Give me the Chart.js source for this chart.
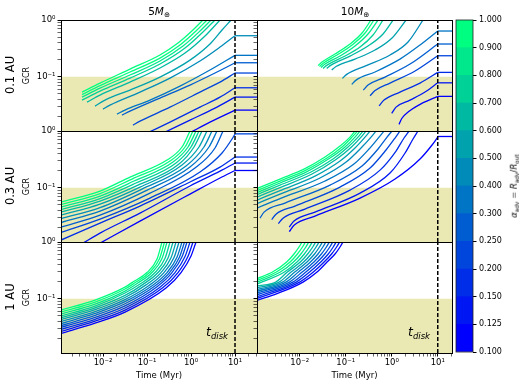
<!DOCTYPE html>
<html>
<head>
<meta charset="utf-8">
<script src="https://cdn.jsdelivr.net/npm/chart.js@4.4.1/dist/chart.umd.min.js"></script>
<style>
  html, body { margin: 0; padding: 0; background: #fff; }
  #fig { position: relative; width: 523px; height: 387px; overflow: hidden; font-family: 'DejaVu Sans', sans-serif; color: #000; }
  #fig canvas { position: absolute; }
  .txt { position: absolute; white-space: nowrap; line-height: 1; }
  .rot { transform: translate(-50%, -50%) rotate(-90deg); }
  .ctr { transform: translate(-50%, -50%); }
  sub { font-size: 0.68em; vertical-align: -0.3em; line-height: 0; }
</style>
</head>
<body>
<div id="fig">
  <canvas id="p00" width="262" height="123" style="left:0;top:10px"></canvas>
  <canvas id="p01" width="207" height="123" style="left:253px;top:10px"></canvas>
  <canvas id="p10" width="262" height="123" style="left:0;top:121px"></canvas>
  <canvas id="p11" width="207" height="123" style="left:253px;top:121px"></canvas>
  <canvas id="p20" width="262" height="153" style="left:0;top:232px"></canvas>
  <canvas id="p21" width="207" height="153" style="left:253px;top:232px"></canvas>
  <canvas id="cb" width="83" height="352" style="left:440px;top:10px"></canvas>

  <div class="txt ctr" style="left:159px;top:11px;font-size:10.5px">5<i>M</i><sub>⊕</sub></div>
  <div class="txt ctr" style="left:355px;top:11px;font-size:10.5px">10<i>M</i><sub>⊕</sub></div>
  <div class="txt rot" style="left:11px;top:75px;font-size:11.5px">0.1 AU</div>
  <div class="txt rot" style="left:11px;top:186px;font-size:11.5px">0.3 AU</div>
  <div class="txt rot" style="left:11px;top:297px;font-size:11.5px">1 AU</div>
  <div class="txt" style="left:206px;top:326px;font-size:12.5px"><i>t</i><sub><i>disk</i></sub></div>
  <div class="txt" style="left:408px;top:326px;font-size:12.5px"><i>t</i><sub><i>disk</i></sub></div>
  <div class="txt rot" style="left:514px;top:186px;font-size:8.5px"><i>α</i><sub>adv</sub> = <i>R</i><sub>adv</sub>/<i>R</i><sub>out</sub></div>
</div>

<script>
// alpha_adv of each track, same order as the rows of every panel array below
const alphas = [1.0, 0.9, 0.8, 0.7, 0.6, 0.5, 0.4, 0.3, 0.25, 0.2, 0.15, 0.125, 0.1];
// colorbar boundaries
const cbBounds = [0.1, 0.125, 0.15, 0.2, 0.25, 0.3, 0.4, 0.5, 0.6, 0.7, 0.8, 0.9, 1.0];

const tDisk = 10;        // Myr
const gcrLimit = 0.1;    // shaded below
const xLimLeft = [0.00111, 31.6];
const xLimRight = [0.00118, 20.4];
const yLim = [0.011, 1];

// 5 M_earth, 0.1 AU  (time in Myr / GCR)
const tl_t = [
  [0.00333, 0.00855, 0.0411, 0.197, 0.506, 1.17, 1.87],
  [0.00333, 0.00855, 0.0411, 0.197, 0.562, 1.37, 2.31],
  [0.00333, 0.00855, 0.0411, 0.197, 0.658, 1.60, 2.85],
  [0.00333, 0.00855, 0.0411, 0.197, 0.731, 1.87, 3.51],
  [0.00433, 0.00855, 0.0411, 0.197, 0.731, 2.08, 4.56],
  [0.00658, 0.0111, 0.0411, 0.197, 0.949, 2.70, 5.07, 8.11],
  [0.0100, 0.0144, 0.0693, 0.333, 1.60, 4.56, 10],
  [0.0208, 0.0316, 0.117, 0.562, 2.70, 10],
  [0.0270, 0.0411, 0.197, 0.949, 3.51, 10],
  [0.0481, 0.0693, 0.333, 1.60, 4.56, 10],
  [0.111, 0.333, 1.60, 4.56, 10],
  [0.257, 0.949, 3.51, 10],
  [1.0, 2.70, 10]
];
const tl_gcr = [
  [0.0535, 0.077, 0.136, 0.241, 0.392, 0.693, 1],
  [0.0483, 0.0696, 0.121, 0.213, 0.362, 0.666, 1],
  [0.0436, 0.0629, 0.107, 0.189, 0.347, 0.639, 1],
  [0.0386, 0.0557, 0.0945, 0.167, 0.320, 0.614, 1],
  [0.0356, 0.0473, 0.0802, 0.142, 0.261, 0.522, 1],
  [0.0302, 0.0386, 0.058, 0.0984, 0.196, 0.377, 0.666, 1],
  [0.0267, 0.0315, 0.0535, 0.0945, 0.189, 0.333, 0.528],
  [0.0218, 0.0257, 0.0386, 0.0682, 0.131, 0.238],
  [0.021, 0.0246, 0.0419, 0.0711, 0.116, 0.176],
  [0.014, 0.0164, 0.029, 0.0535, 0.0802, 0.116],
  [0.0105, 0.0158, 0.029, 0.0436, 0.0637],
  [0.0105, 0.0171, 0.0279, 0.0436],
  [0.0105, 0.0158, 0.0257]
];
const tl_plateau = [null, null, null, null, null, null, 0.528, 0.238, 0.176, 0.116, 0.0637, 0.0436, 0.0257];

// 10 M_earth, 0.1 AU
const tr_t = [
  [0.025, 0.0305, 0.0585, 0.124, 0.226, 0.355],
  [0.0269, 0.0329, 0.0647, 0.137, 0.263, 0.412],
  [0.029, 0.0355, 0.0752, 0.159, 0.305, 0.504],
  [0.0321, 0.0392, 0.0873, 0.205, 0.392, 0.647],
  [0.0386, 0.0479, 0.124, 0.305, 0.647, 1.07],
  [0.0497, 0.0615, 0.159, 0.434, 1.015, 2.05],
  [0.0843, 0.107, 0.263, 0.918, 2.26, 4.79],
  [0.135, 0.168, 0.434, 1.51, 4.12, 10],
  [0.241, 0.305, 0.715, 2.50, 10],
  [0.338, 0.434, 0.918, 3.21, 10],
  [0.530, 0.680, 1.51, 4.12, 10],
  [1.0, 1.24, 2.50, 5.29, 10],
  [1.44, 1.65, 2.30, 4.49, 10]
];
const tr_gcr = [
  [0.157, 0.181, 0.251, 0.377, 0.589, 1],
  [0.151, 0.174, 0.241, 0.362, 0.589, 1],
  [0.145, 0.167, 0.231, 0.347, 0.566, 1],
  [0.140, 0.160, 0.222, 0.333, 0.543, 1],
  [0.140, 0.160, 0.231, 0.347, 0.566, 1],
  [0.131, 0.151, 0.204, 0.295, 0.481, 1],
  [0.0933, 0.111, 0.154, 0.241, 0.409, 1],
  [0.0731, 0.087, 0.121, 0.204, 0.362, 0.639],
  [0.058, 0.0711, 0.0984, 0.167, 0.377],
  [0.046, 0.0568, 0.077, 0.126, 0.234],
  [0.0306, 0.0386, 0.0535, 0.077, 0.119],
  [0.0225, 0.029, 0.0386, 0.0535, 0.0779],
  [0.0144, 0.0183, 0.024, 0.0337, 0.0449]
];
const tr_plateau = [null, null, null, null, null, null, null, 0.639, 0.377, 0.234, 0.119, 0.0779, 0.0449];

// 5 M_earth, 0.3 AU
const ml_t = [
  [0.00111, 0.00855, 0.0411, 0.285, 0.624, 0.949],
  [0.00111, 0.00855, 0.0456, 0.333, 0.731, 1.11],
  [0.00111, 0.00855, 0.0507, 0.390, 0.855, 1.30],
  [0.00111, 0.00855, 0.0562, 0.456, 1.0, 1.52],
  [0.00111, 0.00855, 0.0624, 0.534, 1.17, 1.78],
  [0.00111, 0.00855, 0.0693, 0.624, 1.52, 2.31],
  [0.00111, 0.00855, 0.077, 0.770, 1.97, 3.00],
  [0.00111, 0.00855, 0.0901, 0.949, 2.56, 3.90],
  [0.00111, 0.00855, 0.117, 1.23, 3.51, 5.34],
  [0.00111, 0.00855, 0.117, 1.60, 5.07, 8.55, 10],
  [0.00111, 0.00855, 0.0693, 0.949, 4.56, 10],
  [0.00351, 0.00855, 0.0693, 0.949, 4.56, 10],
  [0.00855, 0.0693, 0.949, 4.56, 10]
];
const ml_gcr = [
  [0.0557, 0.087, 0.154, 0.307, 0.522, 1],
  [0.0503, 0.0786, 0.142, 0.295, 0.522, 1],
  [0.0454, 0.0711, 0.131, 0.283, 0.522, 1],
  [0.041, 0.0642, 0.121, 0.272, 0.522, 1],
  [0.037, 0.058, 0.111, 0.261, 0.522, 1],
  [0.0328, 0.0513, 0.1025, 0.251, 0.522, 1],
  [0.0285, 0.0445, 0.0945, 0.241, 0.522, 1],
  [0.0242, 0.0386, 0.087, 0.231, 0.522, 1],
  [0.0201, 0.0328, 0.0802, 0.222, 0.501, 1],
  [0.0162, 0.0279, 0.0655, 0.189, 0.409, 0.722, 0.885],
  [0.0119, 0.0237, 0.0473, 0.126, 0.231, 0.347],
  [0.0105, 0.0158, 0.0356, 0.107, 0.196, 0.272],
  [0.0105, 0.0257, 0.077, 0.148, 0.201]
];
const ml_plateau = [null, null, null, null, null, null, null, null, null, 0.89, 0.347, 0.272, 0.201];

// 10 M_earth, 0.3 AU
const mr_t = [
  [0.00118, 0.00373, 0.0130, 0.0355, 0.0752, 0.124, 0.159],
  [0.00118, 0.00373, 0.0130, 0.0392, 0.0831, 0.137, 0.181],
  [0.00118, 0.00373, 0.0144, 0.0456, 0.0966, 0.159, 0.205],
  [0.00118, 0.00373, 0.0168, 0.053, 0.112, 0.185, 0.238],
  [0.00118, 0.00373, 0.0185, 0.0615, 0.130, 0.215, 0.276],
  [0.00118, 0.00373, 0.0215, 0.0752, 0.159, 0.263, 0.338],
  [0.00118, 0.00373, 0.0276, 0.102, 0.215, 0.355, 0.456],
  [0.00118, 0.00373, 0.0355, 0.151, 0.321, 0.530, 0.680],
  [0.00137, 0.00168, 0.00479, 0.0456, 0.226, 0.504, 0.791, 1.015],
  [0.00246, 0.00305, 0.0079, 0.0752, 0.338, 0.752, 1.18, 1.51],
  [0.00343, 0.00434, 0.0130, 0.124, 0.557, 1.24, 1.85, 2.38],
  [0.00594, 0.00752, 0.0215, 0.205, 0.918, 1.95, 2.90, 3.73],
  [0.00594, 0.00752, 0.0215, 0.205, 1.18, 4.12, 7.52, 10]
];
const mr_gcr = [
  [0.0964, 0.142, 0.217, 0.347, 0.543, 0.78, 1],
  [0.0888, 0.131, 0.20, 0.333, 0.522, 0.78, 1],
  [0.0819, 0.121, 0.192, 0.333, 0.522, 0.78, 1],
  [0.0755, 0.111, 0.185, 0.320, 0.522, 0.78, 1],
  [0.0682, 0.1004, 0.174, 0.314, 0.511, 0.78, 1],
  [0.0604, 0.0888, 0.160, 0.295, 0.501, 0.78, 1],
  [0.0524, 0.077, 0.148, 0.283, 0.501, 0.78, 1],
  [0.0436, 0.0642, 0.131, 0.261, 0.481, 0.78, 1],
  [0.029, 0.037, 0.0535, 0.111, 0.241, 0.481, 0.78, 1],
  [0.0274, 0.0341, 0.0473, 0.1025, 0.222, 0.462, 0.752, 1],
  [0.0232, 0.029, 0.0419, 0.0907, 0.204, 0.443, 0.752, 1],
  [0.0201, 0.0257, 0.037, 0.0802, 0.181, 0.409, 0.722, 1],
  [0.0168, 0.0218, 0.0315, 0.0655, 0.142, 0.320, 0.566, 0.78]
];
const mr_plateau = [null, null, null, null, null, null, null, null, null, null, null, null, 0.80];

// 5 M_earth, 1 AU
const bl_t = [
  [0.00111, 0.00658, 0.0316, 0.0456, 0.100, 0.169, 0.219],
  [0.00111, 0.00658, 0.0316, 0.052, 0.114, 0.192, 0.250],
  [0.00111, 0.00658, 0.0316, 0.0593, 0.130, 0.219, 0.285],
  [0.00111, 0.00658, 0.0316, 0.0693, 0.152, 0.257, 0.333],
  [0.00111, 0.00658, 0.0316, 0.0811, 0.178, 0.300, 0.390],
  [0.00111, 0.00658, 0.0316, 0.0949, 0.208, 0.351, 0.456],
  [0.00111, 0.00658, 0.0316, 0.111, 0.243, 0.411, 0.534],
  [0.00111, 0.00658, 0.0316, 0.130, 0.285, 0.480, 0.624],
  [0.00111, 0.00658, 0.0316, 0.148, 0.325, 0.548, 0.712],
  [0.00111, 0.00658, 0.0316, 0.169, 0.370, 0.624, 0.811],
  [0.00111, 0.00658, 0.0316, 0.197, 0.433, 0.731, 0.949],
  [0.00111, 0.00658, 0.0316, 0.231, 0.506, 0.855, 1.11],
  [0.00111, 0.00658, 0.0316, 0.270, 0.593, 1.0, 1.30]
];
const bl_gcr = [
  [0.0629, 0.0945, 0.160, 0.192, 0.289, 0.501, 1],
  [0.058, 0.087, 0.148, 0.189, 0.289, 0.505, 1],
  [0.0535, 0.0802, 0.136, 0.185, 0.289, 0.511, 1],
  [0.0493, 0.074, 0.126, 0.181, 0.289, 0.517, 1],
  [0.046, 0.0689, 0.114, 0.179, 0.289, 0.522, 1],
  [0.0426, 0.064, 0.105, 0.175, 0.289, 0.526, 1],
  [0.0393, 0.0592, 0.0964, 0.171, 0.289, 0.532, 1],
  [0.0363, 0.0548, 0.0885, 0.169, 0.289, 0.539, 1],
  [0.0336, 0.0507, 0.0813, 0.165, 0.289, 0.543, 1],
  [0.0311, 0.0469, 0.0746, 0.163, 0.289, 0.548, 1],
  [0.0286, 0.0432, 0.0685, 0.159, 0.289, 0.554, 1],
  [0.0264, 0.040, 0.0629, 0.157, 0.289, 0.561, 1],
  [0.0244, 0.037, 0.058, 0.154, 0.289, 0.566, 1]
];
const bl_plateau = [null, null, null, null, null, null, null, null, null, null, null, null, null];

// 10 M_earth, 1 AU
const br_t = [
  [0.00118, 0.00256, 0.00521, 0.00752, 0.00966, 0.0112],
  [0.00118, 0.00311, 0.00618, 0.00891, 0.0115, 0.0133],
  [0.00118, 0.0038, 0.00733, 0.0106, 0.0136, 0.0158],
  [0.00118, 0.00465, 0.00873, 0.0126, 0.0162, 0.0188],
  [0.00118, 0.00301, 0.0054, 0.0103, 0.0149, 0.0192, 0.0223],
  [0.00118, 0.00356, 0.0065, 0.0122, 0.0177, 0.0227, 0.0264],
  [0.00118, 0.00423, 0.00779, 0.0144, 0.021, 0.0269, 0.0313],
  [0.00118, 0.00501, 0.00937, 0.0171, 0.0249, 0.0319, 0.0371],
  [0.00118, 0.00597, 0.0113, 0.0204, 0.0296, 0.038, 0.0442],
  [0.00118, 0.00708, 0.0136, 0.0241, 0.0351, 0.0451, 0.0525],
  [0.00118, 0.00839, 0.0164, 0.0286, 0.0417, 0.0535, 0.0621],
  [0.00118, 0.00995, 0.0198, 0.0339, 0.0493, 0.0634, 0.0737],
  [0.00118, 0.00321, 0.0118, 0.0238, 0.0392, 0.0585, 0.0752, 0.0873]
];
const br_gcr = [
  [0.226, 0.295, 0.443, 0.614, 0.816, 1],
  [0.21, 0.295, 0.443, 0.614, 0.816, 1],
  [0.195, 0.295, 0.443, 0.614, 0.816, 1],
  [0.181, 0.295, 0.443, 0.614, 0.816, 1],
  [0.168, 0.196, 0.295, 0.443, 0.614, 0.816, 1],
  [0.156, 0.196, 0.295, 0.443, 0.614, 0.816, 1],
  [0.145, 0.196, 0.295, 0.443, 0.614, 0.816, 1],
  [0.135, 0.196, 0.295, 0.443, 0.614, 0.816, 1],
  [0.126, 0.196, 0.295, 0.443, 0.614, 0.816, 1],
  [0.117, 0.196, 0.295, 0.443, 0.614, 0.816, 1],
  [0.108, 0.196, 0.295, 0.443, 0.614, 0.816, 1],
  [0.1008, 0.196, 0.295, 0.443, 0.614, 0.816, 1],
  [0.0933, 0.1226, 0.196, 0.295, 0.443, 0.614, 0.816, 1]
];
const br_plateau = [null, null, null, null, null, null, null, null, null, null, null, null, null];

Chart.defaults.font.family = "'DejaVu Sans', sans-serif";
Chart.defaults.color = '#000';

const SHADE = 'rgb(235,233,179)';
const FONT = { family: "'DejaVu Sans', sans-serif", size: 8.5 };

// matplotlib "winter", 12 discrete levels
function winter(k) {
  const f = k / 11;
  return 'rgb(0,' + Math.round(255 * f) + ',' + Math.round(255 - 127.5 * f) + ')';
}
function binOf(a) {
  let k = 0;
  for (let i = 0; i < cbBounds.length - 1; i++) if (a >= cbBounds[i]) k = i;
  return k;
}

const SUP = { '-': '\u207B', '0': '\u2070', '1': '\u00B9', '2': '\u00B2', '3': '\u00B3',
  '4': '\u2074', '5': '\u2075', '6': '\u2076', '7': '\u2077', '8': '\u2078', '9': '\u2079' };
function decadeLabel(v) {
  const e = Math.round(Math.log10(v));
  if (Math.abs(v / Math.pow(10, e) - 1) > 1e-6) return '';
  return '10' + String(e).split('').map(c => SUP[c]).join('');
}
function logTicks(min, max) {
  const out = [];
  for (let e = Math.floor(Math.log10(min)); e <= Math.ceil(Math.log10(max)); e++) {
    for (let m = 1; m < 10; m++) {
      const v = m * Math.pow(10, e);
      if (v >= min * 0.999 && v <= max * 1.001) out.push({ value: v, major: m === 1 });
    }
  }
  return out;
}
const tickW = c => (c.tick && c.tick.major) ? 1 : 0.6;

// full box round each axes
const frame = {
  id: 'frame',
  afterDraw(chart) {
    const { ctx, chartArea: a } = chart;
    ctx.save();
    ctx.strokeStyle = '#000';
    ctx.lineWidth = 1;
    ctx.strokeRect(a.left + 0.5, a.top + 0.5, a.right - a.left, a.bottom - a.top);
    ctx.restore();
  }
};

function buildPanel(id, col, row, tArr, gArr, plateau) {
  const xlim = col === 0 ? xLimLeft : xLimRight;
  const bottom = row === 2;
  const datasets = [];

  datasets.push({
    data: [{ x: xlim[0], y: gcrLimit }, { x: xlim[1], y: gcrLimit }],
    showLine: true, fill: 'start', backgroundColor: SHADE,
    borderWidth: 0, borderColor: 'rgba(0,0,0,0)', pointRadius: 0, order: 3
  });

  tArr.forEach((ts, i) => {
    const color = winter(binOf(alphas[i]));
    datasets.push({
      data: ts.map((t, j) => ({ x: t, y: gArr[i][j] })),
      showLine: true, borderColor: color, borderWidth: 1.3, pointRadius: 0,
      cubicInterpolationMode: 'monotone', fill: false, order: 2
    });
    if (plateau[i] !== null) {
      datasets.push({
        data: [{ x: tDisk, y: plateau[i] }, { x: xlim[1], y: plateau[i] }],
        showLine: true, borderColor: color, borderWidth: 1.3, pointRadius: 0, fill: false, order: 2
      });
    }
  });

  datasets.push({
    data: [{ x: tDisk, y: yLim[0] }, { x: tDisk, y: yLim[1] }],
    showLine: true, borderColor: '#000', borderWidth: 1.5, borderDash: [4, 2],
    pointRadius: 0, fill: false, order: 1
  });

  new Chart(document.getElementById(id), {
    type: 'scatter',
    data: { datasets },
    options: {
      responsive: false,
      animation: false,
      events: [],
      layout: { padding: { left: 0, right: col === 0 ? 5 : 8, top: 10, bottom: 2 } },
      plugins: { legend: { display: false }, tooltip: { enabled: false } },
      scales: {
        x: {
          type: 'logarithmic', min: xlim[0], max: xlim[1], position: 'bottom',
          afterBuildTicks: s => { s.ticks = logTicks(s.min, s.max); },
          afterFit: s => { s.height = bottom ? 30 : 0; s.paddingLeft = 0; s.paddingRight = 0; },
          ticks: { display: bottom, autoSkip: false, maxRotation: 0, padding: 1, font: FONT, color: '#000',
                   callback: v => decadeLabel(v) },
          grid: { display: bottom, drawOnChartArea: false, tickLength: 3.5, color: '#000', tickWidth: tickW },
          border: { display: true, color: '#000', width: 1 },
          title: { display: bottom, text: 'Time (Myr)', color: '#000',
                   font: { family: FONT.family, size: 8.5 }, padding: { top: 0, bottom: 2 } }
        },
        y: {
          type: 'logarithmic', min: yLim[0], max: yLim[1], position: 'left',
          afterBuildTicks: s => { s.ticks = logTicks(s.min, s.max); },
          afterFit: s => { s.width = col === 0 ? 61 : 4; s.paddingTop = 0; s.paddingBottom = 0; },
          ticks: { display: col === 0, autoSkip: false, padding: 2, font: FONT, color: '#000',
                   callback: v => decadeLabel(v) },
          grid: { drawOnChartArea: false, tickLength: 3.5, color: '#000', tickWidth: tickW },
          border: { display: true, color: '#000', width: 1 },
          title: { display: col === 0, text: 'GCR', color: '#000',
                   font: { family: FONT.family, size: 8 }, padding: { top: 22, bottom: 0 } }
        }
      }
    },
    plugins: [frame]
  });
}

buildPanel('p00', 0, 0, tl_t, tl_gcr, tl_plateau);
buildPanel('p01', 1, 0, tr_t, tr_gcr, tr_plateau);
buildPanel('p10', 0, 1, ml_t, ml_gcr, ml_plateau);
buildPanel('p11', 1, 1, mr_t, mr_gcr, mr_plateau);
buildPanel('p20', 0, 2, bl_t, bl_gcr, bl_plateau);
buildPanel('p21', 1, 2, br_t, br_gcr, br_plateau);

// colorbar: one stacked segment per level
const cbOutline = {
  id: 'cbOutline',
  afterDraw(chart) {
    const { ctx, chartArea: a } = chart;
    ctx.save();
    ctx.strokeStyle = '#222';
    ctx.lineWidth = 0.8;
    ctx.strokeRect(a.left, a.top, a.right - a.left, a.bottom - a.top);
    ctx.restore();
  }
};
new Chart(document.getElementById('cb'), {
  type: 'bar',
  data: {
    labels: [''],
    datasets: cbBounds.slice(0, -1).map((b, k) => ({
      data: [1], backgroundColor: winter(k), borderWidth: 0,
      barPercentage: 1, categoryPercentage: 1
    }))
  },
  options: {
    responsive: false,
    animation: false,
    events: [],
    layout: { padding: { left: 16, right: 0, top: 10, bottom: 10 } },
    plugins: { legend: { display: false }, tooltip: { enabled: false } },
    scales: {
      x: { stacked: true, display: false },
      y: {
        stacked: true, position: 'right', min: 0, max: cbBounds.length - 1,
        afterBuildTicks: s => { s.ticks = cbBounds.map((b, i) => ({ value: i })); },
        afterFit: s => { s.width = 50; s.paddingTop = 0; s.paddingBottom = 0; },
        ticks: { autoSkip: false, padding: 2.5, font: { family: FONT.family, size: 8 }, color: '#000',
                 callback: v => cbBounds[v].toFixed(3) },
        grid: { drawOnChartArea: false, tickLength: 3.5, color: '#000' },
        border: { display: false }
      }
    }
  },
  plugins: [cbOutline]
});
</script>
</body>
</html>
